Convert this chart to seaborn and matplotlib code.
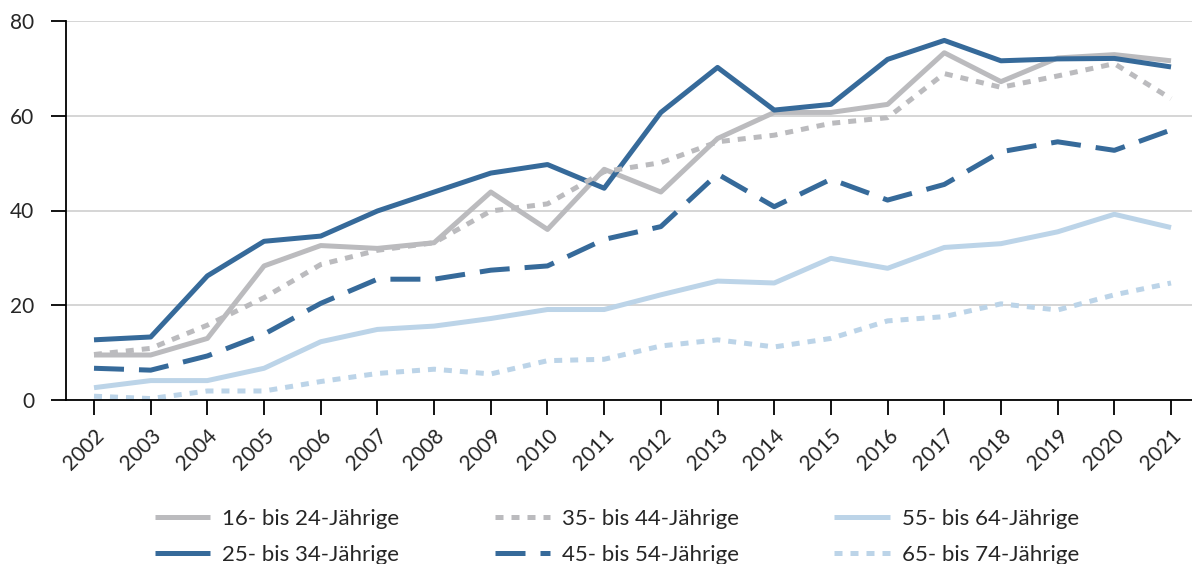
import matplotlib
matplotlib.use("Agg")
import matplotlib.pyplot as plt
import seaborn as sns
import pandas as pd

years = list(range(2002, 2022))
labels = ["16- bis 24-Jährige", "25- bis 34-Jährige", "35- bis 44-Jährige",
          "45- bis 54-Jährige", "55- bis 64-Jährige", "65- bis 74-Jährige"]

v16_24 = [9.5, 9.5, 13.0, 28.3, 32.6, 32.0, 33.2, 43.9, 36.0, 48.7,
          43.9, 55.2, 60.7, 60.7, 62.4, 73.3, 67.2, 72.2, 72.9, 71.6]
v25_34 = [12.7, 13.3, 26.2, 33.5, 34.6, 39.9, 43.9, 47.9, 49.7, 44.7,
          60.7, 70.2, 61.2, 62.4, 71.9, 75.9, 71.6, 72.0, 72.1, 70.3]
v35_44 = [9.6, 10.9, 15.8, 21.6, 28.6, 31.6, 33.2, 39.9, 41.4, 48.2,
          50.1, 54.5, 55.9, 58.4, 59.6, 68.9, 66.0, 68.4, 71.0, 63.6]
v45_54 = [6.7, 6.3, 9.3, 13.9, 20.4, 25.5, 25.5, 27.4, 28.3, 33.9,
          36.6, 47.7, 40.8, 46.6, 42.2, 45.5, 52.4, 54.5, 52.7, 57.0]
v55_64 = [2.6, 4.1, 4.1, 6.7, 12.3, 14.9, 15.6, 17.2, 19.1, 19.1,
          22.2, 25.1, 24.7, 29.9, 27.8, 32.2, 33.0, 35.5, 39.2, 36.4]
v65_74 = [0.8, 0.3, 1.9, 1.9, 3.9, 5.6, 6.5, 5.5, 8.3, 8.6,
          11.4, 12.7, 11.2, 13.0, 16.7, 17.6, 20.3, 19.0, 22.2, 24.7]
series = [v16_24, v25_34, v35_44, v45_54, v55_64, v65_74]

dark = "#366a9a"
gray = "#bbbbbe"
light = "#bcd4e8"
palette = {labels[0]: gray, labels[1]: dark, labels[2]: gray,
           labels[3]: dark, labels[4]: light, labels[5]: light}
dashes = {labels[0]: "", labels[1]: "", labels[2]: (1.6, 1.6),
          labels[3]: (6, 3), labels[4]: "", labels[5]: (1.6, 1.6)}

df = pd.DataFrame({
    "Jahr": years * len(labels),
    "Wert": [v for s in series for v in s],
    "Gruppe": [l for l in labels for _ in years],
})

sns.set_theme(style="white")
plt.rcParams['font.family'] = ['Lato', 'DejaVu Sans']

fs = 15
lfs = 16
fig = plt.figure(figsize=(11.92, 5.64), dpi=100)
ax = fig.add_axes([66 / 1192, (564 - 400) / 564, (1192 - 66) / 1192, 379 / 564])

sns.lineplot(data=df, x="Jahr", y="Wert", hue="Gruppe", style="Gruppe",
             palette=palette, dashes=dashes, hue_order=labels, style_order=labels,
             linewidth=3.6, legend=False, ax=ax)
for ln in ax.get_lines():
    ln.set_solid_capstyle("butt")
    ln.set_dash_capstyle("butt")
    ln.set_clip_on(False)

ax.set_xlim(2001.506, 2021.37)
ax.set_ylim(0, 80)
ax.set_yticks([0, 20, 40, 60, 80])
ax.set_xticks(years)
ax.set_xticklabels([str(y) for y in years], rotation=45, ha="right",
                   rotation_mode="anchor")
ax.grid(axis="y", color="#d2d2d2", linewidth=1.3)
ax.set_axisbelow(True)
for s in ["top", "right"]:
    ax.spines[s].set_visible(False)
for s in ["left", "bottom"]:
    ax.spines[s].set_color("black")
    ax.spines[s].set_linewidth(1.3)
ax.tick_params(axis="both", which="major", direction="out", length=11,
               width=1.3, color="black", labelsize=fs, bottom=True, left=True)
ax.tick_params(axis="x", pad=7)
ax.tick_params(axis="y", pad=12)
ax.set_xlabel("")
ax.set_ylabel("")

handles = ax.get_lines()[:6]
leg = fig.legend(handles, labels, ncol=3, loc="upper left",
                 bbox_to_anchor=(135 / 1192, 1 - 489 / 564), frameon=False,
                 fontsize=lfs, handlelength=2.48, handletextpad=0.54,
                 columnspacing=4.3, labelspacing=0.71)
for h in leg.get_lines():
    h.set_linewidth(3.6)

fig.savefig("out.png", dpi=100)
